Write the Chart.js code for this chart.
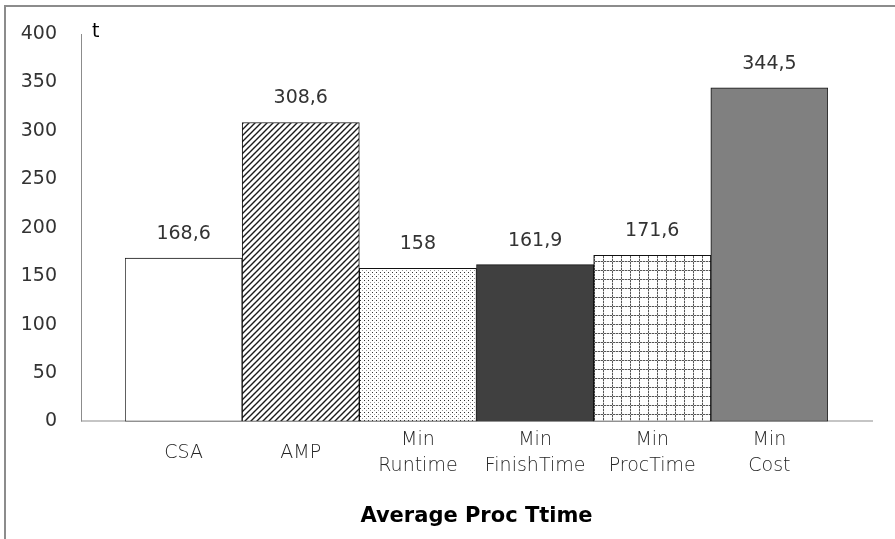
<!DOCTYPE html>
<html>
<head>
<meta charset="utf-8">
<title>Average Proc Ttime</title>
<script src="https://cdn.jsdelivr.net/npm/chart.js@4/dist/chart.umd.min.js"></script>
<style>
  html, body { margin: 0; padding: 0; background: #fff; }
  canvas { display: block; }
</style>
</head>
<body>
<canvas id="CanvaId" width="895" height="539"></canvas>
<script>
const categories = [["CSA"], ["AMP"], ["Min", "Runtime"], ["Min", "FinishTime"], ["Min", "ProcTime"], ["Min", "Cost"]];
const valeurs = [168.6, 308.6, 158, 161.9, 171.6, 344.5];
const axeYMin = 0;
const axeYMax = 400;
const axeYPas = 50;
const titreAxeX = "Average Proc Ttime";
const titreAxeY = "t";

// petit canvas répété pour remplir les barres à motif
function creerMotif(taille, dessin) {
  const c = document.createElement("canvas");
  c.width = taille;
  c.height = taille;
  const ctx = c.getContext("2d");
  ctx.fillStyle = "#fff";
  ctx.fillRect(0, 0, taille, taille);
  dessin(ctx, taille);
  return ctx.createPattern(c, "repeat");
}

const hachures = creerMotif(6, function (ctx, t) {
  ctx.strokeStyle = "#1a1a1a";
  ctx.lineWidth = 1.4;
  ctx.beginPath();
  ctx.moveTo(-1, t + 1);
  ctx.lineTo(t + 1, -1);
  ctx.moveTo(-1, 1);
  ctx.lineTo(1, -1);
  ctx.moveTo(t - 1, t + 1);
  ctx.lineTo(t + 1, t - 1);
  ctx.stroke();
});

const pointilles = creerMotif(4, function (ctx) {
  ctx.fillStyle = "#333";
  ctx.fillRect(0, 0, 1, 1);
  ctx.fillStyle = "#999";
  ctx.fillRect(2, 2, 1, 1);
});

const quadrillage = creerMotif(9, function (ctx, t) {
  for (let i = 0; i < t; i++) {
    ctx.fillStyle = i % 3 === 0 ? "#c4c4c4" : "#555";
    ctx.fillRect(i, 0, 1, 1);
    ctx.fillRect(0, i, 1, 1);
  }
});

const couleursBarres = ["#ffffff", hachures, pointilles, "#404040", quadrillage, "#808080"];

// écart entre les axes et la première / dernière barre
const ecartAxe = 44;

const pluginDecor = {
  id: "decor",
  beforeDatasetsDraw(chart) {
    const ctx = chart.ctx;
    const zone = chart.chartArea;
    ctx.save();
    ctx.fillStyle = "#8c8c8c";
    ctx.fillRect(zone.left - ecartAxe, zone.top, 1, zone.bottom - zone.top);
    ctx.fillRect(zone.left - ecartAxe, zone.bottom - 1, zone.right - zone.left + 2 * ecartAxe + 1, 1);
    ctx.fillStyle = "#000";
    ctx.font = "19px 'DejaVu Sans'";
    ctx.textAlign = "left";
    ctx.textBaseline = "middle";
    ctx.fillText(titreAxeY, zone.left - ecartAxe + 11, zone.top - 2);
    ctx.restore();
  },
  afterDatasetsDraw(chart) {
    const ctx = chart.ctx;
    const meta = chart.getDatasetMeta(0);
    ctx.save();
    ctx.fillStyle = "#333";
    ctx.font = "19px 'DejaVu Sans'";
    ctx.textAlign = "center";
    ctx.textBaseline = "middle";
    meta.data.forEach(function (barre, i) {
      ctx.fillText(String(valeurs[i]).replace(".", ","), barre.x, barre.y - 24);
    });
    ctx.restore();
  },
  afterDraw(chart) {
    // cadre gris en haut et à gauche
    const ctx = chart.ctx;
    ctx.save();
    ctx.fillStyle = "#8c8c8c";
    ctx.fillRect(4, 5, 2, chart.height - 5);
    ctx.fillRect(4, 5, chart.width - 4, 2);
    ctx.restore();
  },
};

const configuration = {
  type: "bar",
  data: {
    labels: categories,
    datasets: [
      {
        data: valeurs,
        backgroundColor: couleursBarres,
        borderColor: "#111",
        borderWidth: 1,
        borderSkipped: false,
        barPercentage: 1,
        categoryPercentage: 1,
      },
    ],
  },
  options: {
    responsive: false,
    animation: false,
    devicePixelRatio: 1,
    layout: { padding: { left: 0, right: 67, top: 34, bottom: 0 } },
    plugins: {
      legend: { display: false },
      tooltip: { enabled: false },
    },
    scales: {
      x: {
        grid: { display: false, drawTicks: false },
        border: { display: false },
        ticks: {
          color: "#262626",
          font: { family: "DejaVu Sans", weight: 200, size: 19, lineHeight: 1.32 },
          padding: 19,
          crossAlign: "center",
          maxRotation: 0,
          autoSkip: false,
        },
        title: {
          display: true,
          text: titreAxeX,
          color: "#000",
          font: { family: "DejaVu Sans", size: 21, weight: "bold", lineHeight: 1.2 },
          padding: { top: 0, bottom: 10 },
        },
        afterFit: function (scale) {
          scale.height = 117.5;
        },
      },
      y: {
        min: axeYMin,
        max: axeYMax,
        grid: { display: false, drawTicks: false },
        border: { display: false },
        ticks: {
          stepSize: axeYPas,
          color: "#333",
          font: { family: "DejaVu Sans", size: 19 },
          padding: 68,
        },
        afterFit: function (scale) {
          scale.width = 125;
          // le padding des graduations ne doit pas repousser le haut du graphique
          scale.paddingTop = 0;
          scale.paddingBottom = 0;
        },
      },
    },
  },
  plugins: [pluginDecor],
};

const graphique = document.getElementById("CanvaId");
const chart = new Chart(graphique, configuration);
</script>
</body>
</html>
